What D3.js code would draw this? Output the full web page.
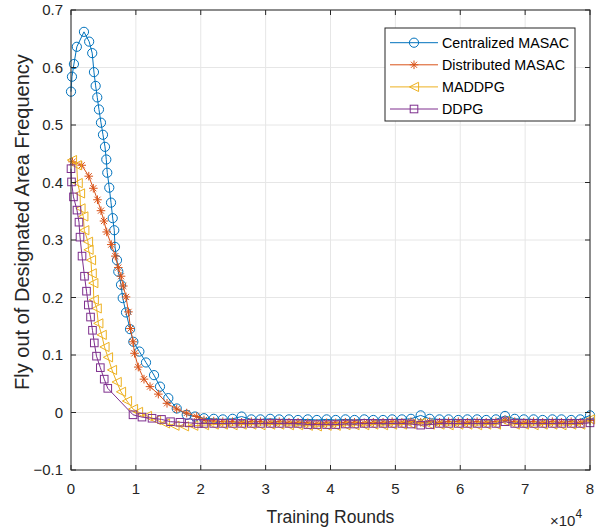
<!DOCTYPE html>
<html>
<head>
<meta charset="utf-8">
<script src="https://cdn.jsdelivr.net/npm/d3@7"></script>
<style>
  body { margin: 0; background: #fff; }
  svg { font-family: "Liberation Sans", Arial, sans-serif; }
</style>
</head>
<body>
<svg id="chart" width="603" height="530"></svg>
<script>
// series names and legend order
let names = ["Centralized MASAC", "Distributed MASAC", "MADDPG", "DDPG"];
let colors = ["#0072BD", "#D95319", "#EDB120", "#7E2F8E"];

// axis ticks
let xTicks = [0, 1, 2, 3, 4, 5, 6, 7, 8];
let yTicks = [-0.1, 0, 0.1, 0.2, 0.3, 0.4, 0.5, 0.6, 0.7];

// early part of each curve (x in 10^4 rounds)
let blueX = [0, 0.015, 0.045, 0.09, 0.20, 0.28, 0.327, 0.354, 0.380, 0.405, 0.431, 0.462, 0.493, 0.524, 0.544, 0.559, 0.590, 0.617, 0.643, 0.667, 0.678, 0.709, 0.729, 0.771, 0.797, 0.848, 0.910, 0.961, 1.054, 1.156, 1.280, 1.372, 1.500, 1.630, 1.784, 1.912];
let blueY = [0.558, 0.584, 0.606, 0.636, 0.662, 0.645, 0.625, 0.592, 0.568, 0.548, 0.527, 0.504, 0.483, 0.462, 0.440, 0.417, 0.391, 0.365, 0.338, 0.317, 0.288, 0.265, 0.245, 0.222, 0.199, 0.174, 0.145, 0.123, 0.106, 0.087, 0.065, 0.045, 0.025, 0.007, -0.004, -0.007];

let orangeX = [0.023, 0.165, 0.274, 0.344, 0.408, 0.462, 0.509, 0.550, 0.621, 0.683, 0.729, 0.771, 0.806, 0.848, 0.886, 0.917, 0.956, 0.979, 1.037, 1.125, 1.218, 1.346, 1.480, 1.629, 1.783, 1.938];
let orangeY = [0.436, 0.430, 0.411, 0.390, 0.370, 0.351, 0.333, 0.314, 0.292, 0.272, 0.252, 0.237, 0.220, 0.201, 0.175, 0.146, 0.123, 0.103, 0.079, 0.058, 0.045, 0.032, 0.016, 0.006, -0.001, -0.007];

let yellowX = [0.015, 0.088, 0.103, 0.139, 0.146, 0.190, 0.205, 0.262, 0.270, 0.308, 0.319, 0.344, 0.351, 0.396, 0.421, 0.473, 0.516, 0.570, 0.632, 0.704, 0.771, 0.863, 0.956, 1.033, 1.171, 1.310, 1.449, 1.595, 1.742, 1.885];
let yellowY = [0.439, 0.430, 0.399, 0.381, 0.355, 0.341, 0.317, 0.297, 0.283, 0.265, 0.242, 0.225, 0.196, 0.181, 0.155, 0.135, 0.114, 0.096, 0.074, 0.053, 0.036, 0.020, 0.006, 0.001, -0.006, -0.013, -0.019, -0.023, -0.024, -0.023];

let purpleX = [0, 0.008, 0.038, 0.092, 0.123, 0.139, 0.170, 0.208, 0.239, 0.267, 0.301, 0.331, 0.359, 0.393, 0.452, 0.512, 0.567, 0.956, 1.094, 1.249, 1.395, 1.534, 1.680, 1.823, 1.962];
let purpleY = [0.424, 0.401, 0.375, 0.352, 0.331, 0.305, 0.272, 0.237, 0.211, 0.187, 0.166, 0.143, 0.121, 0.098, 0.078, 0.058, 0.042, -0.004, -0.008, -0.010, -0.012, -0.016, -0.017, -0.018, -0.019];

// flat tail shared x positions
let tailX = [2.05, 2.20, 2.34, 2.49, 2.63, 2.78, 2.92, 3.07, 3.21, 3.36, 3.50, 3.65, 3.79, 3.94, 4.08, 4.23, 4.37, 4.52, 4.66, 4.81, 4.95, 5.10, 5.24, 5.39, 5.53, 5.68, 5.82, 5.97, 6.11, 6.26, 6.40, 6.55, 6.69, 6.84, 6.98, 7.13, 7.27, 7.42, 7.56, 7.71, 7.85, 8.00];
let blueTail = [-0.010, -0.011, -0.012, -0.011, -0.007, -0.012, -0.012, -0.011, -0.012, -0.012, -0.013, -0.012, -0.013, -0.012, -0.013, -0.012, -0.013, -0.012, -0.013, -0.013, -0.012, -0.012, -0.011, -0.005, -0.011, -0.012, -0.012, -0.013, -0.012, -0.012, -0.013, -0.012, -0.006, -0.011, -0.012, -0.012, -0.013, -0.012, -0.012, -0.013, -0.012, -0.005];
let orangeTail = [-0.013, -0.015, -0.016, -0.016, -0.017, -0.016, -0.016, -0.017, -0.016, -0.017, -0.017, -0.018, -0.019, -0.018, -0.018, -0.017, -0.017, -0.018, -0.017, -0.017, -0.016, -0.017, -0.016, -0.017, -0.016, -0.017, -0.016, -0.016, -0.017, -0.016, -0.017, -0.016, -0.013, -0.016, -0.017, -0.016, -0.017, -0.016, -0.017, -0.016, -0.017, -0.014];
let yellowTail = [-0.022, -0.021, -0.021, -0.022, -0.021, -0.021, -0.022, -0.021, -0.021, -0.022, -0.022, -0.023, -0.024, -0.023, -0.023, -0.022, -0.022, -0.022, -0.021, -0.022, -0.021, -0.021, -0.020, -0.018, -0.021, -0.021, -0.022, -0.021, -0.021, -0.022, -0.021, -0.021, -0.015, -0.021, -0.021, -0.022, -0.021, -0.021, -0.022, -0.021, -0.021, -0.012];
let purpleTail = [-0.019, -0.019, -0.019, -0.019, -0.019, -0.019, -0.019, -0.019, -0.019, -0.019, -0.019, -0.021, -0.021, -0.021, -0.021, -0.020, -0.020, -0.019, -0.019, -0.019, -0.019, -0.019, -0.020, -0.022, -0.021, -0.019, -0.019, -0.019, -0.019, -0.019, -0.019, -0.019, -0.016, -0.019, -0.019, -0.019, -0.019, -0.019, -0.019, -0.019, -0.019, -0.018];

function zipSeries(hx, hy, ty) {
  let pts = hx.map((x, i) => ({x: x, y: hy[i]}));
  return pts.concat(tailX.map((x, i) => ({x: x, y: ty[i]})));
}

let series = [
  {name: names[0], color: colors[0], marker: "circle", data: zipSeries(blueX, blueY, blueTail)},
  {name: names[1], color: colors[1], marker: "star", data: zipSeries(orangeX, orangeY, orangeTail)},
  {name: names[2], color: colors[2], marker: "triangle", data: zipSeries(yellowX, yellowY, yellowTail)},
  {name: names[3], color: colors[3], marker: "square", data: zipSeries(purpleX, purpleY, purpleTail)}
];

let mLeft = 71, mRight = 590, mTop = 10, mBottom = 470;
let axisColor = "#262626";

let svg = d3.select("#chart");

let xScale = d3.scaleLinear().domain([0, 8]).range([mLeft, mRight]);
let yScale = d3.scaleLinear().domain([-0.1, 0.7]).range([mBottom, mTop]);

// grid
let grid = svg.append("g");
grid.selectAll("line.gx").data(xTicks).enter().append("line")
  .attr("x1", d => xScale(d)).attr("x2", d => xScale(d))
  .attr("y1", mTop).attr("y2", mBottom)
  .attr("stroke", "#e6e6e6").attr("stroke-width", 1);
grid.selectAll("line.gy").data(yTicks).enter().append("line")
  .attr("x1", mLeft).attr("x2", mRight)
  .attr("y1", d => yScale(d)).attr("y2", d => yScale(d))
  .attr("stroke", "#e6e6e6").attr("stroke-width", 1);

// markers
function drawMarker(g, type, color) {
  if (type === "circle") {
    g.append("circle").attr("r", 4.6).attr("fill", "none").attr("stroke", color);
  } else if (type === "star") {
    let r = 4.3, s = r * 0.707;
    g.append("path")
      .attr("d", `M${-r},0L${r},0M0,${-r}L0,${r}M${-s},${-s}L${s},${s}M${-s},${s}L${s},${-s}`)
      .attr("stroke", color).attr("fill", "none");
  } else if (type === "triangle") {
    let r = 4.6;
    g.append("path").attr("d", `M${-r},0L${r},${-r}L${r},${r}Z`)
      .attr("fill", "none").attr("stroke", color);
  } else if (type === "square") {
    g.append("rect").attr("x", -3.8).attr("y", -3.8).attr("width", 7.6).attr("height", 7.6)
      .attr("fill", "none").attr("stroke", color);
  }
}

let line = d3.line().x(d => xScale(d.x)).y(d => yScale(d.y));

let plot = svg.append("g");
series.forEach(s => {
  let g = plot.append("g");
  g.append("path").datum(s.data)
    .attr("d", line)
    .attr("fill", "none")
    .attr("stroke", s.color)
    .attr("stroke-width", 1);
  g.selectAll("g.m").data(s.data).enter().append("g")
    .attr("transform", d => `translate(${xScale(d.x)},${yScale(d.y)})`)
    .each(function() { drawMarker(d3.select(this), s.marker, s.color); });
});

// axes box with inward ticks
let axes = svg.append("g").attr("stroke", axisColor).attr("stroke-width", 1);
axes.append("rect").attr("x", mLeft).attr("y", mTop)
  .attr("width", mRight - mLeft).attr("height", mBottom - mTop).attr("fill", "none");
let tickLen = 5;
xTicks.forEach(t => {
  axes.append("line").attr("x1", xScale(t)).attr("x2", xScale(t)).attr("y1", mBottom).attr("y2", mBottom - tickLen);
  axes.append("line").attr("x1", xScale(t)).attr("x2", xScale(t)).attr("y1", mTop).attr("y2", mTop + tickLen);
});
yTicks.forEach(t => {
  axes.append("line").attr("x1", mLeft).attr("x2", mLeft + tickLen).attr("y1", yScale(t)).attr("y2", yScale(t));
  axes.append("line").attr("x1", mRight).attr("x2", mRight - tickLen).attr("y1", yScale(t)).attr("y2", yScale(t));
});

// tick labels
svg.selectAll("text.xt").data(xTicks).enter().append("text")
  .attr("x", d => xScale(d)).attr("y", mBottom + 24)
  .attr("text-anchor", "middle").attr("font-size", 15).attr("fill", axisColor)
  .text(d => d);
svg.selectAll("text.yt").data(yTicks).enter().append("text")
  .attr("x", mLeft - 8).attr("y", d => yScale(d) + 5)
  .attr("text-anchor", "end").attr("font-size", 15).attr("fill", axisColor)
  .text(d => d3.format("")(+d.toFixed(1)));

// exponent label
let expo = svg.append("text").attr("x", mRight - 40).attr("y", 526)
  .attr("font-size", 15).attr("fill", axisColor);
expo.append("tspan").text("\u00d710");
expo.append("tspan").attr("dy", -8).attr("font-size", 12).text("4");

// axis titles
svg.append("text").attr("x", (mLeft + mRight) / 2).attr("y", 523)
  .attr("text-anchor", "middle").attr("font-size", 17.5).attr("fill", axisColor)
  .text("Training Rounds");
svg.append("text")
  .attr("transform", `translate(29,222) rotate(-90)`)
  .attr("text-anchor", "middle").attr("font-size", 20).attr("fill", axisColor)
  .text("Fly out of Designated Area Frequency");

// legend
let legend = svg.append("g");
legend.append("rect").attr("x", 385).attr("y", 28).attr("width", 190).attr("height", 93)
  .attr("fill", "#fff").attr("stroke", axisColor).attr("stroke-width", 1);
series.forEach((s, i) => {
  let ly = 42.7 + i * 22.1;
  legend.append("line").attr("x1", 390).attr("x2", 438).attr("y1", ly).attr("y2", ly)
    .attr("stroke", s.color).attr("stroke-width", 1);
  let mg = legend.append("g").attr("transform", `translate(414,${ly})`);
  drawMarker(mg, s.marker, s.color);
  legend.append("text").attr("x", 442).attr("y", ly + 5)
    .attr("font-size", 14.3).attr("fill", "#000").text(s.name);
});
</script>
</body>
</html>
